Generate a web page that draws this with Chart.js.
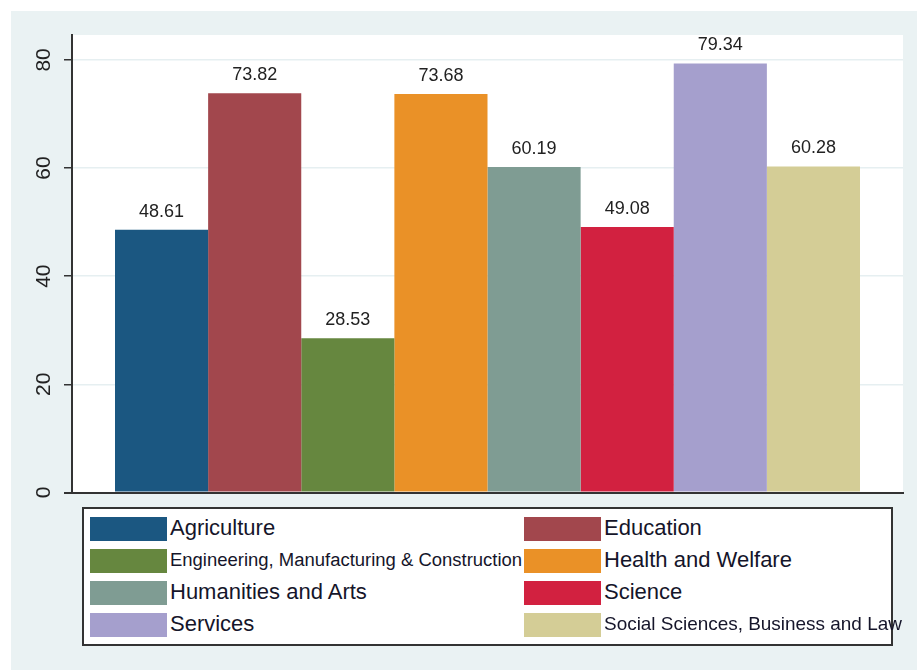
<!DOCTYPE html>
<html>
<head>
<meta charset="utf-8">
<script src="https://cdn.jsdelivr.net/npm/chart.js@4.4.1/dist/chart.umd.min.js"></script>
<style>
  body { margin: 0; background: #fff; font-family: Arial, "Liberation Sans", sans-serif; }
  #wrap { position: relative; width: 917px; height: 670px; }
  #myChart { position: absolute; left: 0; top: 0; }
  #legend {
    position: absolute; left: 82px; top: 507px; width: 807px; height: 135px;
    background: #fff; border: 2px solid #333;
  }
  .item { position: absolute; height: 24px; }
  .swatch { position: absolute; left: 0; top: 0; width: 77px; height: 24px; }
  .label { position: absolute; left: 80px; top: 12px; transform: translateY(-54%); white-space: nowrap; color: #15152a; }
</style>
</head>
<body>
<div id="wrap">
  <canvas id="myChart" width="917" height="670"></canvas>
  <div id="legend"></div>
</div>
<script>
var fields = ["Agriculture", "Education", "Engineering, Manufacturing & Construction", "Health and Welfare",
              "Humanities and Arts", "Science", "Services", "Social Sciences, Business and Law"];
var shares = [48.61, 73.82, 28.53, 73.68, 60.19, 49.08, 79.34, 60.28];
var colours = ["#1b5781", "#a2474d", "#66873f", "#ea9127", "#7f9c93", "#d22140", "#a59fcd", "#d4cd96"];
var yTicks = [0, 20, 40, 60, 80];

var panelBg = "rgb(234,242,243)";

var datasets = [];
for (var i = 0; i < fields.length; i++) {
    datasets.push({
        label: fields[i],
        data: [shares[i]],
        backgroundColor: colours[i],
        borderWidth: 0
    });
}

// grey panel behind everything, white plot region on top
var backdrop = {
    id: "backdrop",
    beforeDraw: function (chart) {
        var c = chart.ctx, a = chart.chartArea;
        c.save();
        c.fillStyle = "#fff";
        c.fillRect(0, 0, chart.width, chart.height);
        c.fillStyle = panelBg;
        c.fillRect(11, 11, chart.width - 11, chart.height - 11);
        c.fillStyle = "#fff";
        c.fillRect(a.left, a.top, a.right - a.left, a.bottom - a.top);
        c.restore();
    }
};

// vertical tick labels on the y axis
var yLabels = {
    id: "yLabels",
    afterDraw: function (chart) {
        var c = chart.ctx, s = chart.scales.y;
        c.save();
        c.font = "21px Arial";
        c.fillStyle = "#222";
        c.textAlign = "center";
        c.textBaseline = "middle";
        s.ticks.forEach(function (t) {
            var y = s.getPixelForValue(t.value);
            c.save();
            c.translate(44, y);
            c.rotate(-Math.PI / 2);
            c.fillText(String(t.value), 0, 0);
            c.restore();
        });
        c.restore();
    }
};

// value printed above each bar
var barValues = {
    id: "barValues",
    afterDatasetsDraw: function (chart) {
        var c = chart.ctx;
        c.save();
        c.font = "18px Arial";
        c.fillStyle = "#222";
        c.textAlign = "center";
        c.textBaseline = "middle";
        chart.data.datasets.forEach(function (ds, i) {
            var bar = chart.getDatasetMeta(i).data[0];
            c.fillText(ds.data[0].toFixed(2), bar.x, bar.y - 18);
        });
        c.restore();
    }
};

var ctx = document.getElementById("myChart").getContext("2d");
var myChart = new Chart(ctx, {
    type: "bar",
    data: { labels: [""], datasets: datasets },
    options: {
        responsive: false,
        animation: false,
        devicePixelRatio: 1,
        layout: { padding: { left: 11, right: 14, top: 35, bottom: 177.5 } },
        datasets: { bar: { categoryPercentage: 0.8965, barPercentage: 1 } },
        plugins: { legend: { display: false }, tooltip: { enabled: false } },
        scales: {
            x: {
                grid: { display: false },
                ticks: { display: false },
                border: { display: true, color: "#333", width: 2 },
                afterFit: function (s) { s.height = 0; }
            },
            y: {
                min: 0,
                max: 84.6,
                afterBuildTicks: function (s) {
                    s.ticks = yTicks.map(function (v) { return { value: v }; });
                },
                ticks: { display: false },
                grid: {
                    color: function (c) { return c.tick && c.tick.value === 0 ? "#333" : "#e6eff1"; },
                    lineWidth: function (c) { return c.tick && c.tick.value === 0 ? 2 : 1.5; },
                    tickColor: "#333",
                    tickLength: 8
                },
                border: { display: true, color: "#333", width: 2 },
                afterFit: function (s) { s.width = 61; }
            }
        }
    },
    plugins: [backdrop, barValues, yLabels]
});

// legend: two columns, four rows, long labels shrink to fit their column
var legend = document.getElementById("legend");
var colLeft = [6, 440];
var colWidth = [352, 298];
for (var j = 0; j < fields.length; j++) {
    var col = j % 2, row = Math.floor(j / 2);
    var item = document.createElement("div");
    item.className = "item";
    item.style.left = colLeft[col] + "px";
    item.style.top = (8 + row * 32) + "px";
    var sw = document.createElement("div");
    sw.className = "swatch";
    sw.style.background = colours[j];
    var lb = document.createElement("span");
    lb.className = "label";
    lb.textContent = fields[j];
    lb.style.fontSize = "22px";
    item.appendChild(sw);
    item.appendChild(lb);
    legend.appendChild(item);
    var w = lb.offsetWidth;
    if (w > colWidth[col]) {
        lb.style.fontSize = (22 * colWidth[col] / w).toFixed(2) + "px";
    }
}
</script>
</body>
</html>
